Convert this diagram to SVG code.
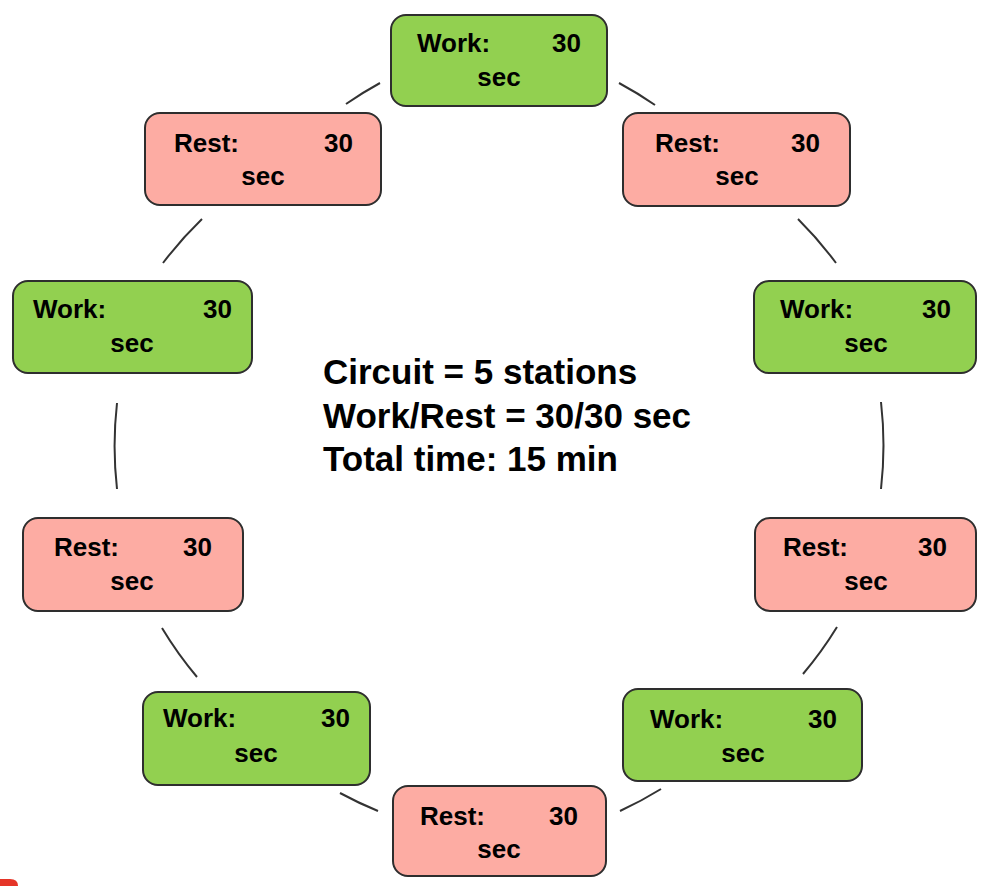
<svg xmlns="http://www.w3.org/2000/svg" width="986" height="886" viewBox="0 0 986 886">
<style>
.box{stroke:#2e2e2e;stroke-width:2}
.work{fill:#92d050}
.rest{fill:#fdaca3}
.t{font-family:"Liberation Sans",Arial,sans-serif;font-weight:bold;font-size:26px;fill:#000}
.c{font-family:"Liberation Sans",Arial,sans-serif;font-weight:bold;font-size:35px;fill:#000}
.e{text-anchor:end}
.m{text-anchor:middle}
.conn path{fill:none;stroke:#333;stroke-width:2}
</style>
<rect width="986" height="886" fill="#fff"/>
<g id="connectors" class="conn">
<path d="M346,104 A383,383 0 0 1 380,83"/>
<path d="M619,83 A383,383 0 0 1 655,105"/>
<path d="M798,219 A383,383 0 0 1 836,263"/>
<path d="M881,402 A383,383 0 0 1 881,489"/>
<path d="M837,627 A383,383 0 0 1 803,674"/>
<path d="M661,789 A383,383 0 0 1 620,811"/>
<path d="M378,811 A383,383 0 0 1 340,793"/>
<path d="M197,677 A383,383 0 0 1 162,628"/>
<path d="M117,489 A383,383 0 0 1 117,403"/>
<path d="M163,263 A383,383 0 0 1 202,219"/>
</g>
<g id="work1"><rect class="box work" x="391" y="15" width="216" height="91" rx="15"/><text class="t" x="417" y="52">Work:</text><text class="t e" x="581" y="52">30</text><text class="t m" x="499" y="86">sec</text></g>
<g id="rest1"><rect class="box rest" x="623" y="113" width="227" height="93" rx="15"/><text class="t" x="655" y="152">Rest:</text><text class="t e" x="820" y="152">30</text><text class="t m" x="737" y="185">sec</text></g>
<g id="work2"><rect class="box work" x="754" y="281" width="222" height="92" rx="15"/><text class="t" x="780" y="318">Work:</text><text class="t e" x="951" y="318">30</text><text class="t m" x="866" y="352">sec</text></g>
<g id="rest2"><rect class="box rest" x="755" y="518" width="221" height="93" rx="15"/><text class="t" x="783" y="556">Rest:</text><text class="t e" x="947" y="556">30</text><text class="t m" x="866" y="590">sec</text></g>
<g id="work3"><rect class="box work" x="623" y="689" width="239" height="92" rx="15"/><text class="t" x="650" y="728">Work:</text><text class="t e" x="837" y="728">30</text><text class="t m" x="743" y="762">sec</text></g>
<g id="rest3"><rect class="box rest" x="393" y="786" width="213" height="90" rx="15"/><text class="t" x="420" y="825">Rest:</text><text class="t e" x="578" y="825">30</text><text class="t m" x="499" y="858">sec</text></g>
<g id="work4"><rect class="box work" x="143" y="692" width="227" height="93" rx="15"/><text class="t" x="163" y="727">Work:</text><text class="t e" x="350" y="727">30</text><text class="t m" x="256" y="762">sec</text></g>
<g id="rest4"><rect class="box rest" x="23" y="518" width="220" height="93" rx="15"/><text class="t" x="54" y="556">Rest:</text><text class="t e" x="212" y="556">30</text><text class="t m" x="132" y="590">sec</text></g>
<g id="work5"><rect class="box work" x="13" y="281" width="239" height="92" rx="15"/><text class="t" x="33" y="318">Work:</text><text class="t e" x="232" y="318">30</text><text class="t m" x="132" y="352">sec</text></g>
<g id="rest5"><rect class="box rest" x="145" y="113" width="236" height="92" rx="15"/><text class="t" x="174" y="152">Rest:</text><text class="t e" x="353" y="152">30</text><text class="t m" x="263" y="185">sec</text></g>
<g id="summary">
<text class="c" x="323" y="384">Circuit = 5 stations</text>
<text class="c" x="323" y="428">Work/Rest = 30/30 sec</text>
<text class="c" x="323" y="471">Total time: 15 min</text>
</g>
<path d="M0,879 H10 Q18,879 18,886 H0 Z" fill="#e53528"/>
</svg>
